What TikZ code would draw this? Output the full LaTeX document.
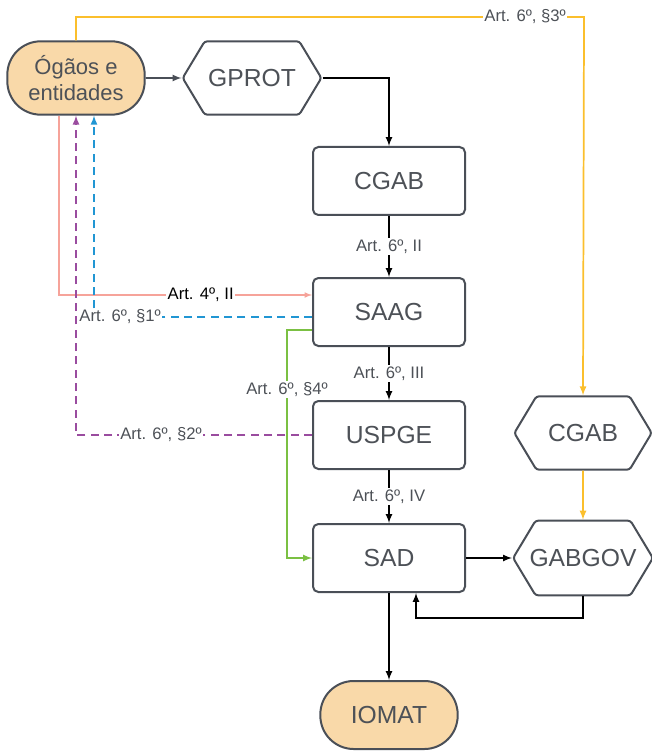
\documentclass[tikz,border=0pt]{standalone}
\usepackage{fontspec}
\setmainfont{Liberation Sans}
\usetikzlibrary{shapes,arrows,positioning}

\definecolor{boxline}{HTML}{4A4F57}
\definecolor{boxtext}{HTML}{4D5157}
\definecolor{orgfill}{HTML}{F9D9A9}
\definecolor{yelline}{HTML}{FBBF2C}
\definecolor{pinkline}{HTML}{F6A39A}
\definecolor{blueline}{HTML}{2196D3}
\definecolor{purpline}{HTML}{9A4C9F}
\definecolor{grenline}{HTML}{7BC043}

\begin{document}
\begin{tikzpicture}[x=0.75pt,y=-0.75pt]
			\tikzstyle{Box}		= [rectangle, rounded corners=4pt, draw=boxline, line width=1.5pt, fill=white, minimum width=114pt, minimum height=51pt, text=boxtext, font=\fontsize{18.5}{20}\selectfont]
			\tikzstyle{Pill}	= [Box, rounded corners=25pt, fill=orgfill, minimum width=103pt, align=center]
			\tikzstyle{Hex}		= [signal, signal to=east and west, signal pointer angle=118, draw=boxline, line width=1.5pt, fill=white, minimum width=103pt, minimum height=55pt, inner xsep=1pt, text=boxtext, font=\fontsize{18.5}{20}\selectfont, rounded corners=2pt]
			\tikzstyle{Lbl}		= [fill=white, inner sep=1pt, text=boxtext, font=\fontsize{12.5}{14}\selectfont]
			\tikzstyle{Flow}	= [-latex, line width=1.3pt, black]
			\tikzstyle{Yel}		= [-latex, line width=1.3pt, yelline]
			
			\useasboundingbox (0,0) rectangle (651,755);
			
			\node (org) at (76,78) [Pill, minimum height=55pt, font=\fontsize{16.5}{20}\selectfont] {Ógãos e\\entidades};
			\node (gprot) at (252,78) [Hex, minimum width=104pt] {GPROT};
			\node (cgab) at (389,181) [Box] {CGAB};
			\node (saag) at (389,312) [Box] {SAAG};
			\node (uspge) at (389,435) [Box] {USPGE};
			\node (sad) at (389,558) [Box] {SAD};
			\node (iomat) at (389,715) [Pill] {IOMAT};
			\node (cgabgov) at (583,433) [Hex] {CGAB};
			\node (gabgov) at (583,558) [Hex, minimum height=56pt, inner xsep=-4.5pt] {GABGOV};
			
			\coordinate (top) at (584,17);
			\coordinate (back) at (416,618);
			
			% fluxo principal
			\draw [Flow, boxline] (org) to (gprot);
			\draw [Flow] (gprot.east) -| (cgab);
			\draw [Flow] (cgab) to node[Lbl] {Art. 6º, II} (saag);
			\draw [Flow] (saag) to node[Lbl] {Art. 6º, III} (uspge);
			\draw [Flow] (uspge) to node[Lbl] {Art. 6º, IV} (sad);
			\draw [Flow] (sad) to (iomat);
			\draw [Flow] (sad) to (gabgov);
			\draw [Flow] (gabgov.south) |- (back) -- (back |- sad.south);
			
			% gabinete
			\draw [Yel] (org.north) |- node[Lbl, pos=0.942] {Art. 6º, §3º} (top) -- (cgabgov.north);
			\draw [Yel] (cgabgov) to (gabgov);
			
			% retornos
			\draw [-latex, line width=0.9pt, pinkline] ([xshift=-12.75pt]org.south) |- node[Lbl, text=black, pos=0.78] {Art. 4º, II} ([yshift=12.75pt]saag.west);
			\draw [-latex, line width=1.3pt, blueline, dash pattern=on 6pt off 4pt] ([yshift=-3.75pt]saag.west) -| node[Lbl, pos=0.44] {Art. 6º, §1º} ([xshift=13.5pt]org.south);
			\draw [-latex, line width=1.3pt, purpline, dash pattern=on 6pt off 4pt] (uspge.west) -| node[Lbl, pos=0.32] {Art. 6º, §2º} (org.south);
			\draw [-latex, line width=1.3pt, grenline] ([yshift=-13.5pt]saag.west) -| node[Lbl, pos=0.63] {Art. 6º, §4º} ([xshift=-18.75pt]sad.west) -- (sad.west);
			
		\end{tikzpicture}
\end{document}
